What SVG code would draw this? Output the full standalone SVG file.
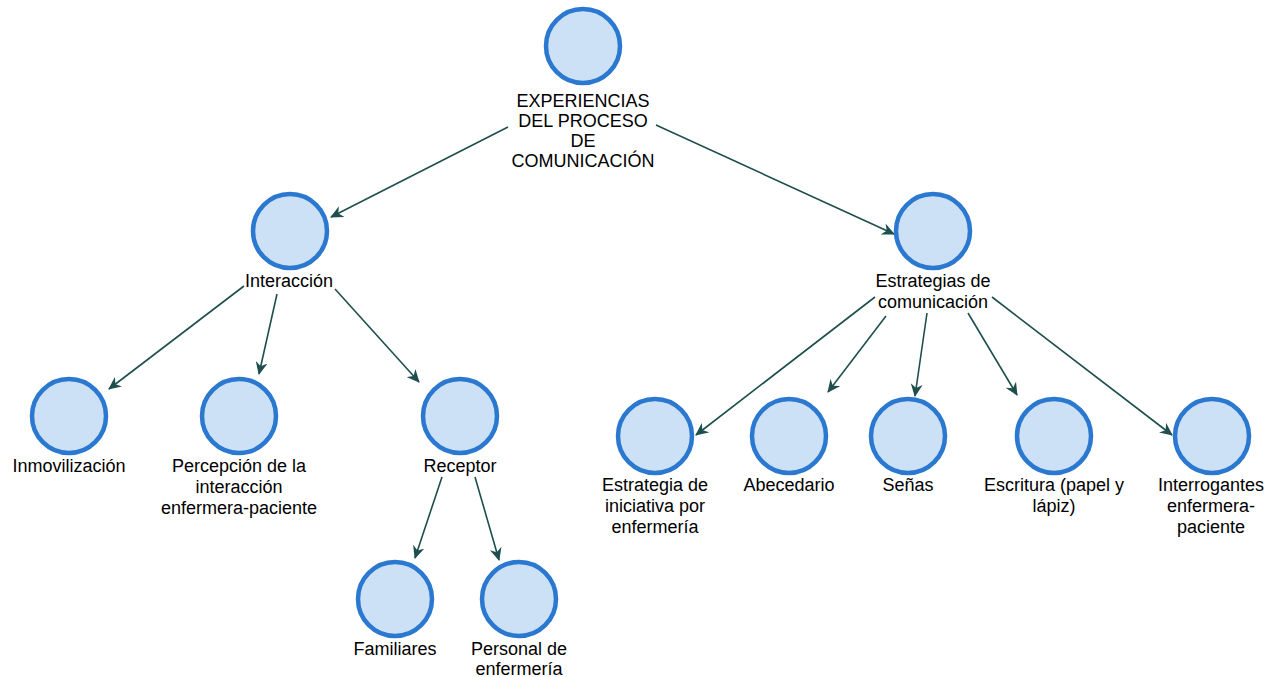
<svg xmlns="http://www.w3.org/2000/svg" width="1276" height="677" viewBox="0 0 1276 677">
  <style>
    .node circle { fill: #cde1f6; stroke: #2b78d0; stroke-width: 4.5; }
    .node text { font-family: "Liberation Sans", Arial, sans-serif; font-size: 18px; fill: #000; text-anchor: middle; }
    .edge { stroke: #1e4f4c; stroke-width: 1.6; fill: none; marker-end: url(#arrow); }
  </style>
  <defs>
    <marker id="arrow" markerUnits="userSpaceOnUse" markerWidth="14" markerHeight="12" refX="12" refY="6" orient="auto">
      <path d="M0,0 L13,6 L0,12 L4,6 z" fill="#1e4f4c"/>
    </marker>
  </defs>
  <rect width="1276" height="677" fill="#ffffff"/>

  <g id="connectors">
    <line class="edge" x1="508" y1="127" x2="331" y2="217"/>
    <line class="edge" x1="656" y1="125" x2="894" y2="234"/>
    <line class="edge" x1="244" y1="286" x2="109" y2="389"/>
    <line class="edge" x1="277" y1="294" x2="259" y2="374"/>
    <line class="edge" x1="335" y1="289" x2="419" y2="382"/>
    <line class="edge" x1="442" y1="477" x2="415" y2="558"/>
    <line class="edge" x1="475" y1="477" x2="499" y2="560"/>
    <line class="edge" x1="875" y1="297" x2="696" y2="435"/>
    <line class="edge" x1="886" y1="316" x2="828" y2="392"/>
    <line class="edge" x1="927" y1="313" x2="915" y2="396"/>
    <line class="edge" x1="968" y1="313" x2="1017" y2="395"/>
    <line class="edge" x1="992" y1="297" x2="1172" y2="435"/>
  </g>

  <g id="n-experiencias" class="node">
    <circle cx="583" cy="46" r="37"/>
    <text x="583" y="107">EXPERIENCIAS</text>
    <text x="583" y="127">DEL PROCESO</text>
    <text x="583" y="147">DE</text>
    <text x="583" y="167">COMUNICACIÓN</text>
  </g>

  <g id="n-interaccion" class="node">
    <circle cx="290" cy="231" r="37"/>
    <text x="289" y="287">Interacción</text>
  </g>

  <g id="n-estrategias" class="node">
    <circle cx="933" cy="231" r="37"/>
    <text x="933" y="287">Estrategias de</text>
    <text x="933" y="308">comunicación</text>
  </g>

  <g id="n-inmovilizacion" class="node">
    <circle cx="69" cy="416" r="37"/>
    <text x="69" y="472">Inmovilización</text>
  </g>

  <g id="n-percepcion" class="node">
    <circle cx="239" cy="416" r="37"/>
    <text x="239" y="472">Percepción de la</text>
    <text x="239" y="493">interacción</text>
    <text x="239" y="514">enfermera-paciente</text>
  </g>

  <g id="n-receptor" class="node">
    <circle cx="460" cy="416" r="37"/>
    <text x="460" y="472">Receptor</text>
  </g>

  <g id="n-familiares" class="node">
    <circle cx="395" cy="599" r="37"/>
    <text x="395" y="655">Familiares</text>
  </g>

  <g id="n-personal" class="node">
    <circle cx="519" cy="599" r="37"/>
    <text x="519" y="655">Personal de</text>
    <text x="519" y="675">enfermería</text>
  </g>

  <g id="n-iniciativa" class="node">
    <circle cx="655" cy="436" r="37"/>
    <text x="655" y="491">Estrategia de</text>
    <text x="655" y="512">iniciativa por</text>
    <text x="655" y="533">enfermería</text>
  </g>

  <g id="n-abecedario" class="node">
    <circle cx="789" cy="436" r="37"/>
    <text x="789" y="491">Abecedario</text>
  </g>

  <g id="n-senas" class="node">
    <circle cx="908" cy="436" r="37"/>
    <text x="908" y="491">Señas</text>
  </g>

  <g id="n-escritura" class="node">
    <circle cx="1054" cy="436" r="37"/>
    <text x="1054" y="491">Escritura (papel y</text>
    <text x="1054" y="512">lápiz)</text>
  </g>

  <g id="n-interrogantes" class="node">
    <circle cx="1212" cy="436" r="37"/>
    <text x="1211" y="491">Interrogantes</text>
    <text x="1211" y="512">enfermera-</text>
    <text x="1211" y="533">paciente</text>
  </g>
</svg>
